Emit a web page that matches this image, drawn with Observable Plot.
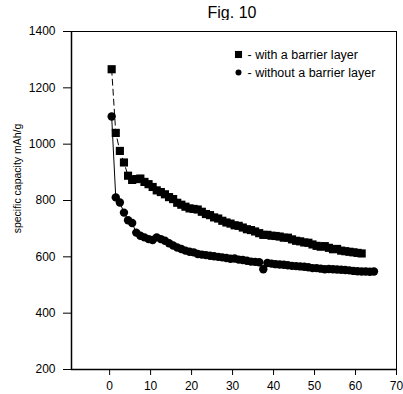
<!DOCTYPE html>
<html>
<head>
<meta charset="utf-8">
<script src="https://cdn.jsdelivr.net/npm/d3@7"></script>
<script src="https://cdn.jsdelivr.net/npm/@observablehq/plot@0.6"></script>
<style>
  body { margin: 0; background: #fff; font-family: "Liberation Sans", Arial, sans-serif; }
  #wrap { position: relative; width: 403px; height: 394px; }
  #title { position: absolute; left: 0; width: 464px; top: 4px; text-align: center; font-size: 16px; line-height: 18px; color: #000; }
  #chart { position: absolute; left: 0; top: 20px; }
</style>
</head>
<body>
<div id="wrap">
  <div id="title">Fig. 10</div>
  <div id="chart"></div>
</div>
<script>
const seriesNames = ["- with a barrier layer", "- without a barrier layer"];
const yLabel = "specific capacity mAh/g";

const withCycle = [0.5,1.5,2.5,3.5,4.5,5.5,6.5,7.5,8.5,9.5,10.5,11.5,12.5,13.5,14.5,15.5,16.5,17.5,18.5,19.5,20.5,21.5,22.5,23.5,24.5,25.5,26.5,27.5,28.5,29.5,30.5,31.5,32.5,33.5,34.5,35.5,36.5,37.5,38.5,39.5,40.5,41.5,42.5,43.5,44.5,45.5,46.5,47.5,48.5,49.5,50.5,51.5,52.5,53.5,54.5,55.5,56.5,57.5,58.5,59.5,60.5,61.5];
const withCap = [1266,1040,976,935,888,873,876,878,866,858,848,836,830,822,812,805,792,785,778,772,770,768,760,752,748,740,736,728,722,718,712,710,704,698,695,690,684,678,678,675,674,672,668,668,662,657,655,651,650,644,639,636,638,632,627,628,622,620,618,616,614,612];

const withoutCycle = [0.5,1.5,2.5,3.5,4.5,5.5,6.5,7.5,8.5,9.5,10.5,11.5,12.5,13.5,14.5,15.5,16.5,17.5,18.5,19.5,20.5,21.5,22.5,23.5,24.5,25.5,26.5,27.5,28.5,29.5,30.5,31.5,32.5,33.5,34.5,35.5,36.5,37.5,38.5,39.5,40.5,41.5,42.5,43.5,44.5,45.5,46.5,47.5,48.5,49.5,50.5,51.5,52.5,53.5,54.5,55.5,56.5,57.5,58.5,59.5,60.5,61.5,62.5,63.5,64.5];
const withoutCap = [1098,811,793,757,730,720,686,675,669,663,660,669,663,657,648,640,633,628,622,618,616,610,608,606,604,602,600,598,596,593,594,590,589,586,583,582,581,556,578,576,574,573,572,570,568,567,566,565,563,560,560,558,556,557,556,555,554,553,552,550,549,548,548,547,548];

const xTicks = [0,10,20,30,40,50,60,70];
const yTicks = [200,400,600,800,1000,1200,1400];

const withData = withCycle.map((c, i) => ({cycle: c, cap: withCap[i]}));
const withoutData = withoutCycle.map((c, i) => ({cycle: c, cap: withoutCap[i]}));

const font = "'Liberation Sans', Arial, sans-serif";

const chart = Plot.plot({
  width: 403,
  height: 374,
  marginLeft: 71,
  marginRight: 7,
  marginTop: 11,
  marginBottom: 25,
  style: {fontFamily: font, fontSize: "12px", color: "#000", background: "#fff", overflow: "visible"},
  x: {domain: [-9.3, 70]},
  y: {domain: [200, 1400]},
  marks: [
    Plot.frame({stroke: "#000", strokeWidth: 1}),
    Plot.axisX({ticks: xTicks, tickSize: 6, tickPadding: 6, tickFormat: "d", label: null, fontSize: 12}),
    Plot.axisY({ticks: yTicks, tickSize: 8, tickPadding: 8, tickFormat: "d", label: null, fontSize: 12}),
    Plot.ruleX([-9.3], {stroke: "#000", strokeWidth: 1.5}),
    Plot.ruleY([200], {stroke: "#000", strokeWidth: 1.5}),
    Plot.text([yLabel], {frameAnchor: "left", dx: -54, dy: -22, rotate: -90, text: d => d, textAnchor: "middle", lineAnchor: "middle", fontSize: 10.5, fill: "#000"}),
    Plot.line(withData, {x: "cycle", y: "cap", stroke: "#000", strokeWidth: 1, strokeDasharray: "6,4"}),
    Plot.line(withoutData, {x: "cycle", y: "cap", stroke: "#000", strokeWidth: 1}),
    Plot.dot(withData, {x: "cycle", y: "cap", symbol: "square", r: 4.6, fill: "#000", stroke: "none"}),
    Plot.dot(withoutData, {x: "cycle", y: "cap", symbol: "circle", r: 4.2, fill: "#000", stroke: "none"}),
    Plot.dot([seriesNames[0]], {frameAnchor: "top-left", dx: 167, dy: 23, symbol: "square", r: 4, fill: "#000"}),
    Plot.dot([seriesNames[1]], {frameAnchor: "top-left", dx: 167, dy: 41, symbol: "circle", r: 3, fill: "#000"}),
    Plot.text([seriesNames[0]], {frameAnchor: "top-left", dx: 176, dy: 23, text: d => d, textAnchor: "start", lineAnchor: "middle", fontSize: 12.5, fill: "#000"}),
    Plot.text([seriesNames[1]], {frameAnchor: "top-left", dx: 176, dy: 41, text: d => d, textAnchor: "start", lineAnchor: "middle", fontSize: 12.5, fill: "#000"})
  ]
});

document.getElementById("chart").appendChild(chart);
</script>
</body>
</html>
